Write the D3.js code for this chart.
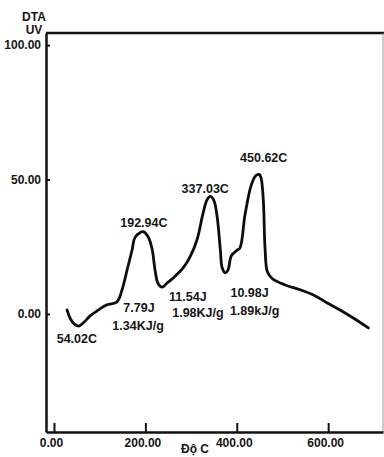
<!DOCTYPE html>
<html>
<head>
<meta charset="utf-8">
<script src="https://cdn.jsdelivr.net/npm/d3@7/dist/d3.min.js"></script>
<style>
  html, body { margin: 0; padding: 0; background: #fff; }
  svg { display: block; }
  text { font-family: "Liberation Sans", Arial, sans-serif; font-weight: bold; fill: #151515; }
</style>
</head>
<body>
<svg id="chart" width="384" height="457"></svg>
<script>
// DTA thermogram: temperature (°C) vs signal (uV)
const temperature = [28.5, 35, 44, 54, 66, 79, 94, 116, 138, 149, 160, 171, 177, 188, 195, 206, 215, 221, 228, 237,
  248, 261, 283, 298, 313, 326, 335, 342, 350, 357, 364, 368, 375, 381, 388, 399, 407, 418, 432, 442,
  449, 453, 458, 462, 467, 478, 506, 539, 572, 598, 626, 655, 688];
const signal = [1.5, -1.5, -3.7, -4.5, -3, -0.7, 1.1, 3.4, 4.5, 9, 16.4, 23.9, 28.4, 30.2, 30.6, 28.7, 23.9, 16.4, 11.2, 10,
  11.6, 13.4, 17.2, 21.3, 27.6, 37.3, 42.5, 43.7, 42.2, 36.2, 23.9, 17.2, 15.3, 16.4, 21.6, 23.5, 24.6, 36.9, 48.1, 51.5,
  51.9, 50.7, 42.5, 23.9, 15.7, 13.1, 10.8, 9, 6.7, 4.1, 1.5, -1.5, -5.2];

const xTicks = [0, 200, 400, 600];
const yTicks = [0, 50, 100];

// Peak / enthalpy annotations, anchored in data units (°C, uV)
const noteText = ["54.02C", "192.94C", "337.03C", "450.62C",
  "7.79J", "1.34KJ/g", "11.54J", "1.98KJ/g", "10.98J", "1.89kJ/g"];
const noteTemp = [50, 196.7, 331, 459, 186, 184, 293, 315, 428, 439];
const noteSignal = [-10.8, 32.3, 45, 56.5, 0.7, -5.9, 4.8, -1.1, 6.3, -0.4];

const svg = d3.select("#chart");
const plotLeft = 46, plotRight = 383, plotTop = 33, plotBottom = 432;

const x = d3.scaleLinear().domain([-17.5, 720]).range([plotLeft, plotRight]);
const y = d3.scaleLinear().domain([-43.9, 104.5]).range([plotBottom, plotTop]);

// frame: top line and thin right border
svg.append("line").attr("x1", plotLeft).attr("x2", 384).attr("y1", plotTop).attr("y2", plotTop)
  .attr("stroke", "#111").attr("stroke-width", 2.5);
svg.append("line").attr("x1", plotRight).attr("x2", plotRight).attr("y1", plotTop).attr("y2", plotBottom)
  .attr("stroke", "#999").attr("stroke-width", 1);

// bottom axis with inward ticks
const xAxis = svg.append("g").attr("transform", `translate(0,${plotBottom})`)
  .call(d3.axisBottom(x).tickValues(xTicks).tickFormat(d3.format(".2f"))
    .tickSizeInner(-9).tickSizeOuter(0).tickPadding(6));
xAxis.select(".domain").attr("stroke", "#111").attr("stroke-width", 2.5);
xAxis.selectAll(".tick line").attr("stroke", "#111").attr("stroke-width", 2);
xAxis.selectAll(".tick text").attr("font-size", "12px").attr("dx", "-3")
  .attr("font-family", "Liberation Sans, Arial, sans-serif").attr("font-weight", "bold").attr("fill", "#151515");

// left axis
const yAxis = svg.append("g").attr("transform", `translate(${plotLeft},0)`)
  .call(d3.axisLeft(y).tickValues(yTicks).tickFormat(d3.format(".2f"))
    .tickSizeInner(-4).tickSizeOuter(0).tickPadding(5));
yAxis.select(".domain").attr("stroke", "#111").attr("stroke-width", 2.5);
yAxis.selectAll(".tick line").attr("stroke", "#111").attr("stroke-width", 2);
yAxis.selectAll(".tick text").attr("font-size", "12px")
  .attr("font-family", "Liberation Sans, Arial, sans-serif").attr("font-weight", "bold").attr("fill", "#151515");

// axis titles
svg.append("text").attr("x", 34).attr("y", 21).attr("text-anchor", "middle").attr("font-size", "12px").text("DTA");
svg.append("text").attr("x", 34).attr("y", 34).attr("text-anchor", "middle").attr("font-size", "12px").text("UV");
svg.append("text").attr("x", 195).attr("y", 453).attr("text-anchor", "middle").attr("font-size", "12px").text("Độ C");

// thermogram curve
const pts = temperature.map((t, i) => [t, signal[i]]);
svg.append("path").datum(pts)
  .attr("fill", "none").attr("stroke", "#0d0d0d").attr("stroke-width", 2.8)
  .attr("stroke-linejoin", "round").attr("stroke-linecap", "round")
  .attr("d", d3.line().x(d => x(d[0])).y(d => y(d[1])).curve(d3.curveCatmullRom.alpha(0.5)));

// annotations
svg.append("g").selectAll("text").data(noteText).join("text")
  .attr("x", (d, i) => x(noteTemp[i]))
  .attr("y", (d, i) => y(noteSignal[i]))
  .attr("text-anchor", "middle").attr("font-size", "12.5px")
  .text(d => d);
</script>
</body>
</html>
